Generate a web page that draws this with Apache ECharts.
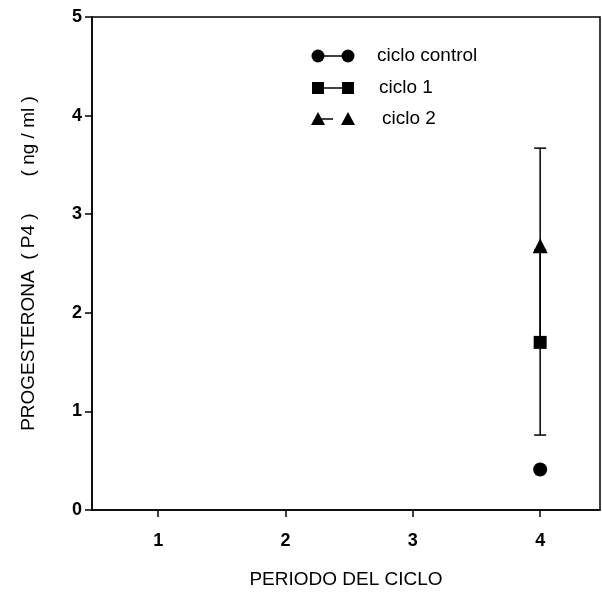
<!DOCTYPE html>
<html>
<head>
<meta charset="utf-8">
<script src="https://cdn.jsdelivr.net/npm/echarts@6/dist/echarts.min.js"></script>
<style>
  html, body { margin: 0; padding: 0; background: #fff; }
  #main { width: 602px; height: 596px; }
</style>
</head>
<body>
<div id="main"></div>
<script>
// data
var periods = [4];
var xTicks = [1, 2, 3, 4];
var controlMean = [0.41];
var ciclo1Mean = [1.70];
var ciclo1Err = [0.94];
var ciclo2Mean = [2.68];
var ciclo2Err = [0.99];

var FONT = 'Liberation Sans';

var chartDom = document.getElementById('main');
var myChart = echarts.init(chartDom);

function pairs(xs, ys) {
    return xs.map(function (x, i) { return [x, ys[i]]; });
}

function errData(xs, ys, es) {
    return xs.map(function (x, i) { return [x, ys[i] - es[i], ys[i] + es[i]]; });
}

function errorBar(params, api) {
    var lo = api.coord([api.value(0), api.value(1)]);
    var hi = api.coord([api.value(0), api.value(2)]);
    var w = 6;
    var st = { stroke: '#000', lineWidth: 1.5 };
    return {
        type: 'group',
        children: [
            { type: 'line', shape: { x1: lo[0], y1: lo[1], x2: hi[0], y2: hi[1] }, style: st },
            { type: 'line', shape: { x1: lo[0] - w, y1: lo[1], x2: lo[0] + w, y2: lo[1] }, style: st },
            { type: 'line', shape: { x1: hi[0] - w, y1: hi[1], x2: hi[0] + w, y2: hi[1] }, style: st }
        ]
    };
}

// legend drawn by hand: marker - line - marker, then the label
function legendRow(y, symbol, label, textX, partial) {
    var items = [];
    var x1 = 318, x2 = 348;
    var mk = function (x) {
        if (symbol === 'circle') return { type: 'circle', shape: { cx: x, cy: y, r: 6.5 }, style: { fill: '#000' } };
        if (symbol === 'rect') return { type: 'rect', shape: { x: x - 6, y: y - 6, width: 12, height: 12 }, style: { fill: '#000' } };
        return { type: 'polygon', shape: { points: [[x, y - 7], [x - 7, y + 6], [x + 7, y + 6]] }, style: { fill: '#000' } };
    };
    items.push({ type: 'line', shape: { x1: x1, y1: y, x2: partial ? x1 + 15 : x2, y2: y }, style: { stroke: '#000', lineWidth: 1.5 } });
    items.push(mk(x1));
    items.push(mk(x2));
    items.push({ type: 'text', x: textX, y: y, style: { text: label, font: '19px "' + FONT + '"', fill: '#000', verticalAlign: 'middle' } });
    return items;
}

var option = {
    animation: false,
    backgroundColor: '#fff',
    grid: {
        left: 92, right: 2, top: 17, bottom: 86,
        show: true, borderColor: '#000', borderWidth: 1.5
    },
    xAxis: {
        type: 'value',
        min: 0.48,
        max: 4.47,
        name: 'PERIODO DEL CICLO',
        nameLocation: 'middle',
        nameGap: 60,
        nameTextStyle: { fontFamily: FONT, fontSize: 19, color: '#000' },
        axisLine: { show: true, lineStyle: { color: '#000', width: 1.5 } },
        axisTick: { show: true, length: 7, customValues: xTicks, lineStyle: { color: '#000', width: 1.5 } },
        axisLabel: { customValues: xTicks, margin: 22, fontFamily: FONT, fontSize: 18, fontWeight: 'bold', color: '#000' },
        splitLine: { show: false }
    },
    yAxis: {
        type: 'value',
        min: 0,
        max: 5,
        interval: 1,
        name: 'PROGESTERONA  ( P4 )       ( ng / ml )',
        nameLocation: 'middle',
        nameGap: 54,
        nameTextStyle: { fontFamily: FONT, fontSize: 19, color: '#000' },
        axisLine: { show: true, lineStyle: { color: '#000', width: 1.5 } },
        axisTick: { show: true, length: 7, lineStyle: { color: '#000', width: 1.5 } },
        axisLabel: { margin: 10, fontFamily: FONT, fontSize: 18, fontWeight: 'bold', color: '#000' },
        splitLine: { show: false }
    },
    series: [
        {
            name: 'ciclo 1 err',
            type: 'custom',
            renderItem: errorBar,
            data: errData(periods, ciclo1Mean, ciclo1Err),
            z: 1
        },
        {
            name: 'ciclo 2 err',
            type: 'custom',
            renderItem: errorBar,
            data: errData(periods, ciclo2Mean, ciclo2Err),
            z: 1
        },
        {
            name: 'ciclo control',
            type: 'scatter',
            symbol: 'circle',
            symbolSize: 14,
            itemStyle: { color: '#000', opacity: 1 },
            data: pairs(periods, controlMean),
            z: 3
        },
        {
            name: 'ciclo 1',
            type: 'scatter',
            symbol: 'rect',
            symbolSize: 13,
            itemStyle: { color: '#000', opacity: 1 },
            data: pairs(periods, ciclo1Mean),
            z: 3
        },
        {
            name: 'ciclo 2',
            type: 'scatter',
            symbol: 'triangle',
            symbolSize: 15,
            itemStyle: { color: '#000', opacity: 1 },
            data: pairs(periods, ciclo2Mean),
            z: 3
        }
    ],
    graphic: [].concat(
        legendRow(56, 'circle', 'ciclo control', 377, false),
        legendRow(88, 'rect', 'ciclo 1', 379, false),
        legendRow(119, 'triangle', 'ciclo 2', 382, true)
    )
};

myChart.setOption(option);
</script>
</body>
</html>
